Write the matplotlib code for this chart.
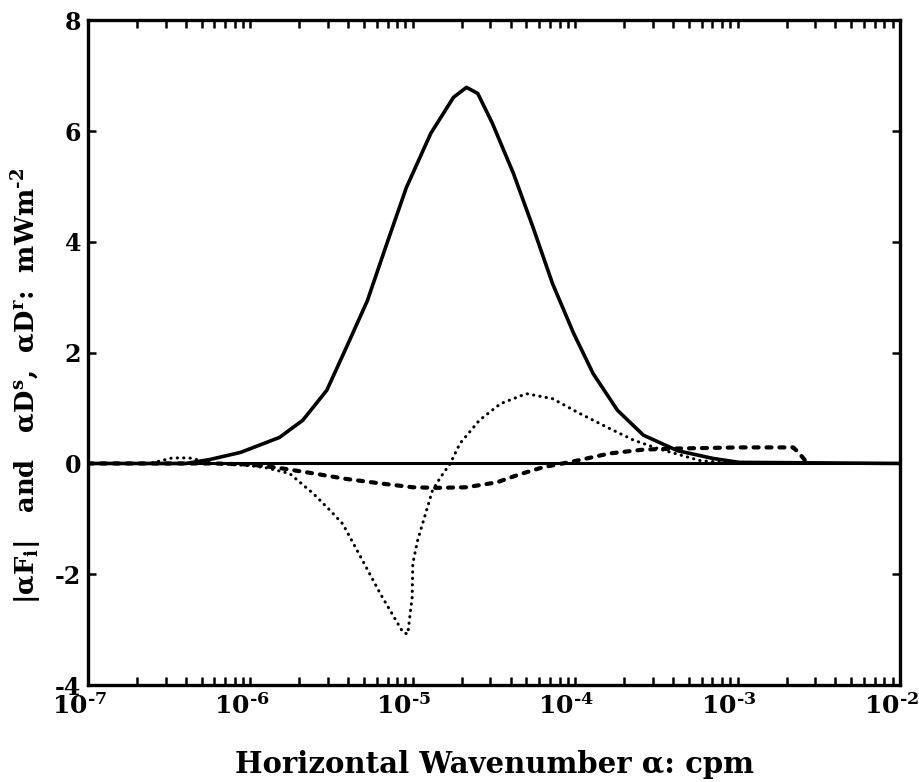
import matplotlib
matplotlib.use("Agg")
import matplotlib.pyplot as plt
import matplotlib.transforms as mtransforms
from matplotlib.ticker import FixedLocator, FixedFormatter, LogLocator, NullFormatter

plt.rcParams['font.family'] = 'DejaVu Serif'
plt.rcParams['font.weight'] = 'bold'
plt.rcParams['axes.labelweight'] = 'bold'
plt.rcParams['mathtext.fontset'] = 'custom'
plt.rcParams['mathtext.rm'] = 'DejaVu Serif:bold'
plt.rcParams['mathtext.it'] = 'DejaVu Serif:bold'
plt.rcParams['mathtext.bf'] = 'DejaVu Serif:bold'
plt.rcParams['axes.unicode_minus'] = False

# solid: |alpha F_i|
kSolid = [1e-7, 4.0e-7, 5.6e-7, 8.7e-7, 1.51e-6, 2.1e-6, 2.95e-6, 3.89e-6,
          5.25e-6, 6.92e-6, 9.12e-6, 1.29e-5, 1.78e-5, 2.14e-5, 2.51e-5,
          3.09e-5, 4.17e-5, 5.5e-5, 7.24e-5, 9.77e-5, 1.29e-4, 1.82e-4,
          2.63e-4, 4.27e-4, 7.08e-4, 1.02e-3, 1e-2]
fSolid = [0.0, 0.0, 0.07, 0.2, 0.47, 0.78, 1.32, 2.09,
          2.94, 3.97, 4.98, 5.96, 6.61, 6.79, 6.68,
          6.14, 5.23, 4.26, 3.25, 2.35, 1.62, 0.96,
          0.51, 0.23, 0.09, 0.02, 0.0]

# dotted: alpha D^s
kDot = [1e-7, 2.4e-7, 3.3e-7, 4.2e-7, 5.9e-7, 1.0e-6, 1.26e-6, 1.74e-6, 2.45e-6,
        3.1e-6, 3.7e-6, 4.9e-6, 6.3e-6, 8.7e-6, 9.3e-6, 9.9e-6, 1.0e-5,
        1.07e-5, 1.15e-5, 1.32e-5, 1.48e-5, 1.7e-5, 1.95e-5, 2.57e-5, 3.47e-5,
        5.0e-5, 7.24e-5, 1.07e-4, 1.58e-4, 2.29e-4, 3.3e-4, 5.9e-4, 1e-3]
dDot = [0.0, 0.0, 0.1, 0.1, 0.0, -0.04, -0.08, -0.18, -0.55,
        -0.85, -1.09, -1.75, -2.35, -3.05, -3.08, -2.42, -1.8,
        -1.39, -1.08, -0.49, -0.25, 0.0, 0.36, 0.78, 1.08,
        1.26, 1.17, 0.9, 0.65, 0.42, 0.26, 0.05, 0.0]

# dashed: alpha D^r
kDash = [1e-7, 6e-7, 1.0e-6, 1.5e-6, 2.45e-6, 3.9e-6, 6.3e-6, 1.0e-5, 1.4e-5,
         2.14e-5, 3.3e-5, 4.5e-5, 6.3e-5, 1.02e-4, 1.62e-4, 2.63e-4, 4.27e-4,
         1.02e-3, 2.2e-3, 2.4e-3, 2.7e-3]
dDash = [0.0, 0.0, -0.02, -0.08, -0.18, -0.28, -0.36, -0.43, -0.44,
         -0.43, -0.34, -0.2, -0.07, 0.05, 0.18, 0.25, 0.27,
         0.29, 0.29, 0.18, 0.0]

xticks = [1e-7, 1e-6, 1e-5, 1e-4, 1e-3, 1e-2]
xticklabels = [r'10$^{\text{-7}}$', r'10$^{\text{-6}}$', r'10$^{\text{-5}}$',
               r'10$^{\text{-4}}$', r'10$^{\text{-3}}$', r'10$^{\text{-2}}$']
yticks = [-4, -2, 0, 2, 4, 6, 8]

fig = plt.figure(figsize=(9.2, 7.82), dpi=100)
ax = fig.add_axes([0.0957, 0.124, 0.8826, 0.85])

ax.axhline(0, color='k', lw=2.2)
ax.plot(kSolid, fSolid, color='k', lw=2.6)
ax.plot(kDot, dDot, color='k', lw=2.2, linestyle=(0, (0.1, 2.0)),
        dash_capstyle='round')
ax.plot(kDash, dDash, color='k', lw=3.0, linestyle=(0, (1.2, 1.9)),
        dash_capstyle='round')

ax.set_xscale('log')
ax.set_xlim(1e-7, 1e-2)
ax.set_ylim(-4, 8)
ax.xaxis.set_major_locator(FixedLocator(xticks))
ax.xaxis.set_major_formatter(FixedFormatter(xticklabels))
ax.xaxis.set_minor_locator(LogLocator(base=10, subs=range(2, 10), numticks=20))
ax.xaxis.set_minor_formatter(NullFormatter())
ax.set_yticks(yticks)
ax.set_yticklabels([str(v) for v in yticks])

ax.tick_params(which='both', direction='in', top=True, right=True,
               width=1.8, length=5.5)
ax.tick_params(axis='x', labelsize=18, pad=6)
ax.tick_params(axis='y', labelsize=17, pad=5)
for s in ax.spines.values():
    s.set_linewidth(2.4)

# labels sit a little left of their ticks
shift = mtransforms.ScaledTranslation(-9 / 100, 0, fig.dpi_scale_trans)
for lab in ax.get_xticklabels():
    lab.set_transform(lab.get_transform() + shift)

ax.set_xlabel(u'Horizontal Wavenumber \u03b1: cpm', fontsize=21, labelpad=22)
ax.set_ylabel(u'|\u03b1F$_\\mathrm{i}$|   and   \u03b1D$^\\mathrm{s}$,  \u03b1D$^\\mathrm{r}$:  mWm$^{\\text{-2}}$',
              fontsize=18.5)
ax.yaxis.set_label_coords(-0.054, 0.45)

plt.savefig('out.png', dpi=100)
